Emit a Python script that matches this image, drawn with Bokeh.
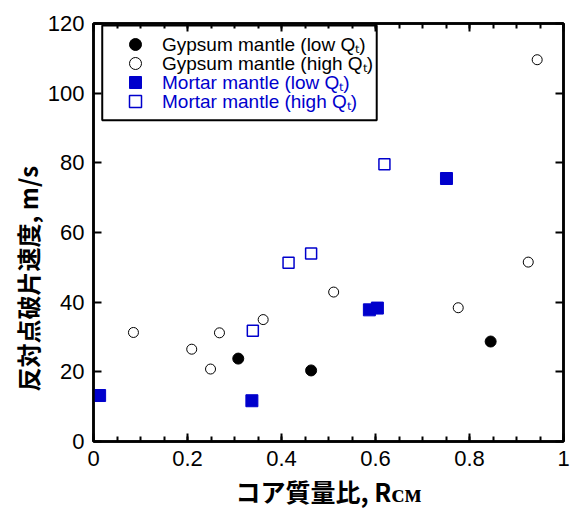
from bokeh.plotting import figure
from bokeh.models import (LinearAxis, FixedTicker, Legend, LegendItem, Title,
                          BoxAnnotation, Range1d, CustomJSTickFormatter)
from bokeh.embed import file_html
from bokeh.resources import INLINE

# ---- data ----
gyp_low_x = [0.308, 0.463, 0.845]
gyp_low_y = [23.8, 20.4, 28.7]
gyp_high_x = [0.085, 0.209, 0.249, 0.268, 0.361, 0.511, 0.776, 0.925, 0.944]
gyp_high_y = [31.3, 26.5, 20.8, 31.2, 35.0, 42.9, 38.4, 51.5, 109.6]
mor_low_x = [0.013, 0.337, 0.587, 0.604, 0.751]
mor_low_y = [13.2, 11.7, 37.8, 38.3, 75.5]
mor_high_x = [0.339, 0.415, 0.463, 0.619]
mor_high_y = [31.8, 51.3, 54.0, 79.6]

x_ticks = [0, 0.2, 0.4, 0.6, 0.8, 1.0]
y_ticks = [0, 20, 40, 60, 80, 100, 120]
series_labels = ["Gypsum mantle (low Q\u209c)", "Gypsum mantle (high Q\u209c)",
                 "Mortar mantle (low Q\u209c)", "Mortar mantle (high Q\u209c)"]
x_title = "コア質量比, R\u1d04\u1d0d"
y_title = "反対点破片速度, m/s"

BLUE = "#0000cc"
TICK_FONT = "Liberation Sans"
CJK_FONT = "Noto Sans CJK JP"

p = figure(width=570, height=511, x_range=Range1d(0, 1), y_range=Range1d(0, 120),
           output_backend="svg", toolbar_location=None,
           min_border_left=93, min_border_right=7, min_border_top=23, min_border_bottom=69)
p.xgrid.visible = False
p.ygrid.visible = False
p.outline_line_color = "black"
p.outline_line_width = 2.5
p.background_fill_color = "white"
p.border_fill_color = "white"

def style_axis(ax, ticks, minor, labels=True):
    ax.ticker = FixedTicker(ticks=ticks, minor_ticks=minor)
    ax.axis_line_color = "black"
    ax.axis_line_width = 2.5
    ax.major_tick_in = 8
    ax.major_tick_out = 0
    ax.major_tick_line_width = 2
    ax.minor_tick_in = 5
    ax.minor_tick_out = 0
    ax.minor_tick_line_width = 2
    if labels:
        ax.major_label_text_font = TICK_FONT
        ax.major_label_text_font_size = "22px"
        ax.major_label_text_color = "black"
        ax.major_label_standoff = 9
    else:
        ax.formatter = CustomJSTickFormatter(code="return ''")
        ax.major_label_text_font_size = "0px"
        ax.major_label_standoff = 0

x_minor = [i * 0.05 for i in range(21)]
style_axis(p.xaxis[0], x_ticks, x_minor)
p.xaxis[0].major_label_overrides = {0: "0", 1: "1"}
p.xaxis[0].axis_label = x_title
p.xaxis[0].axis_label_text_font = CJK_FONT
p.xaxis[0].axis_label_text_font_style = "bold"
p.xaxis[0].axis_label_text_font_size = "25px"
p.xaxis[0].axis_label_text_color = "black"
p.xaxis[0].axis_label_standoff = 4
style_axis(p.yaxis[0], y_ticks, [])

top_ax = LinearAxis()
style_axis(top_ax, x_ticks, x_minor, labels=False)
p.add_layout(top_ax, "above")
right_ax = LinearAxis()
style_axis(right_ax, y_ticks, [], labels=False)
p.add_layout(right_ax, "right")

# y title placed on the left, shifted along the side like the reference
p.add_layout(Title(text=y_title, align="left", offset=50, standoff=0,
                   text_font=CJK_FONT, text_font_style="bold",
                   text_font_size="24px", text_color="black"), "left")

r_ml = p.scatter(mor_low_x, mor_low_y, marker="square", size=12,
                 fill_color=BLUE, line_color=BLUE, line_width=1)
r_mh = p.scatter(mor_high_x, mor_high_y, marker="square", size=11,
                 fill_color="white", line_color=BLUE, line_width=1.5)
r_gh = p.scatter(gyp_high_x, gyp_high_y, marker="circle", size=10,
                 fill_color="white", line_color="black", line_width=1)
r_gl = p.scatter(gyp_low_x, gyp_low_y, marker="circle", size=11,
                 fill_color="black", line_color="black", line_width=1)

# legend frame
p.add_layout(BoxAnnotation(left=0.0186, right=0.6026, bottom=92.2, top=119.4,
                           fill_color=None, fill_alpha=0, line_color="black",
                           line_alpha=1, line_width=2))

rows = [(r_gl, series_labels[0], "black", 382),
        (r_gh, series_labels[1], "black", 363),
        (r_ml, series_labels[2], BLUE, 344),
        (r_mh, series_labels[3], BLUE, 325)]
for rend, lab, col, yloc in rows:
    lg = Legend(items=[LegendItem(label=lab, renderers=[rend])],
                location=(27, yloc), padding=0, margin=0, spacing=0,
                glyph_width=30, glyph_height=30, label_height=30,
                label_standoff=12, border_line_color=None,
                background_fill_alpha=0,
                label_text_font=TICK_FONT, label_text_font_size="19px",
                label_text_color=col)
    p.add_layout(lg)

open("out.html", "w").write(file_html(p, INLINE))
